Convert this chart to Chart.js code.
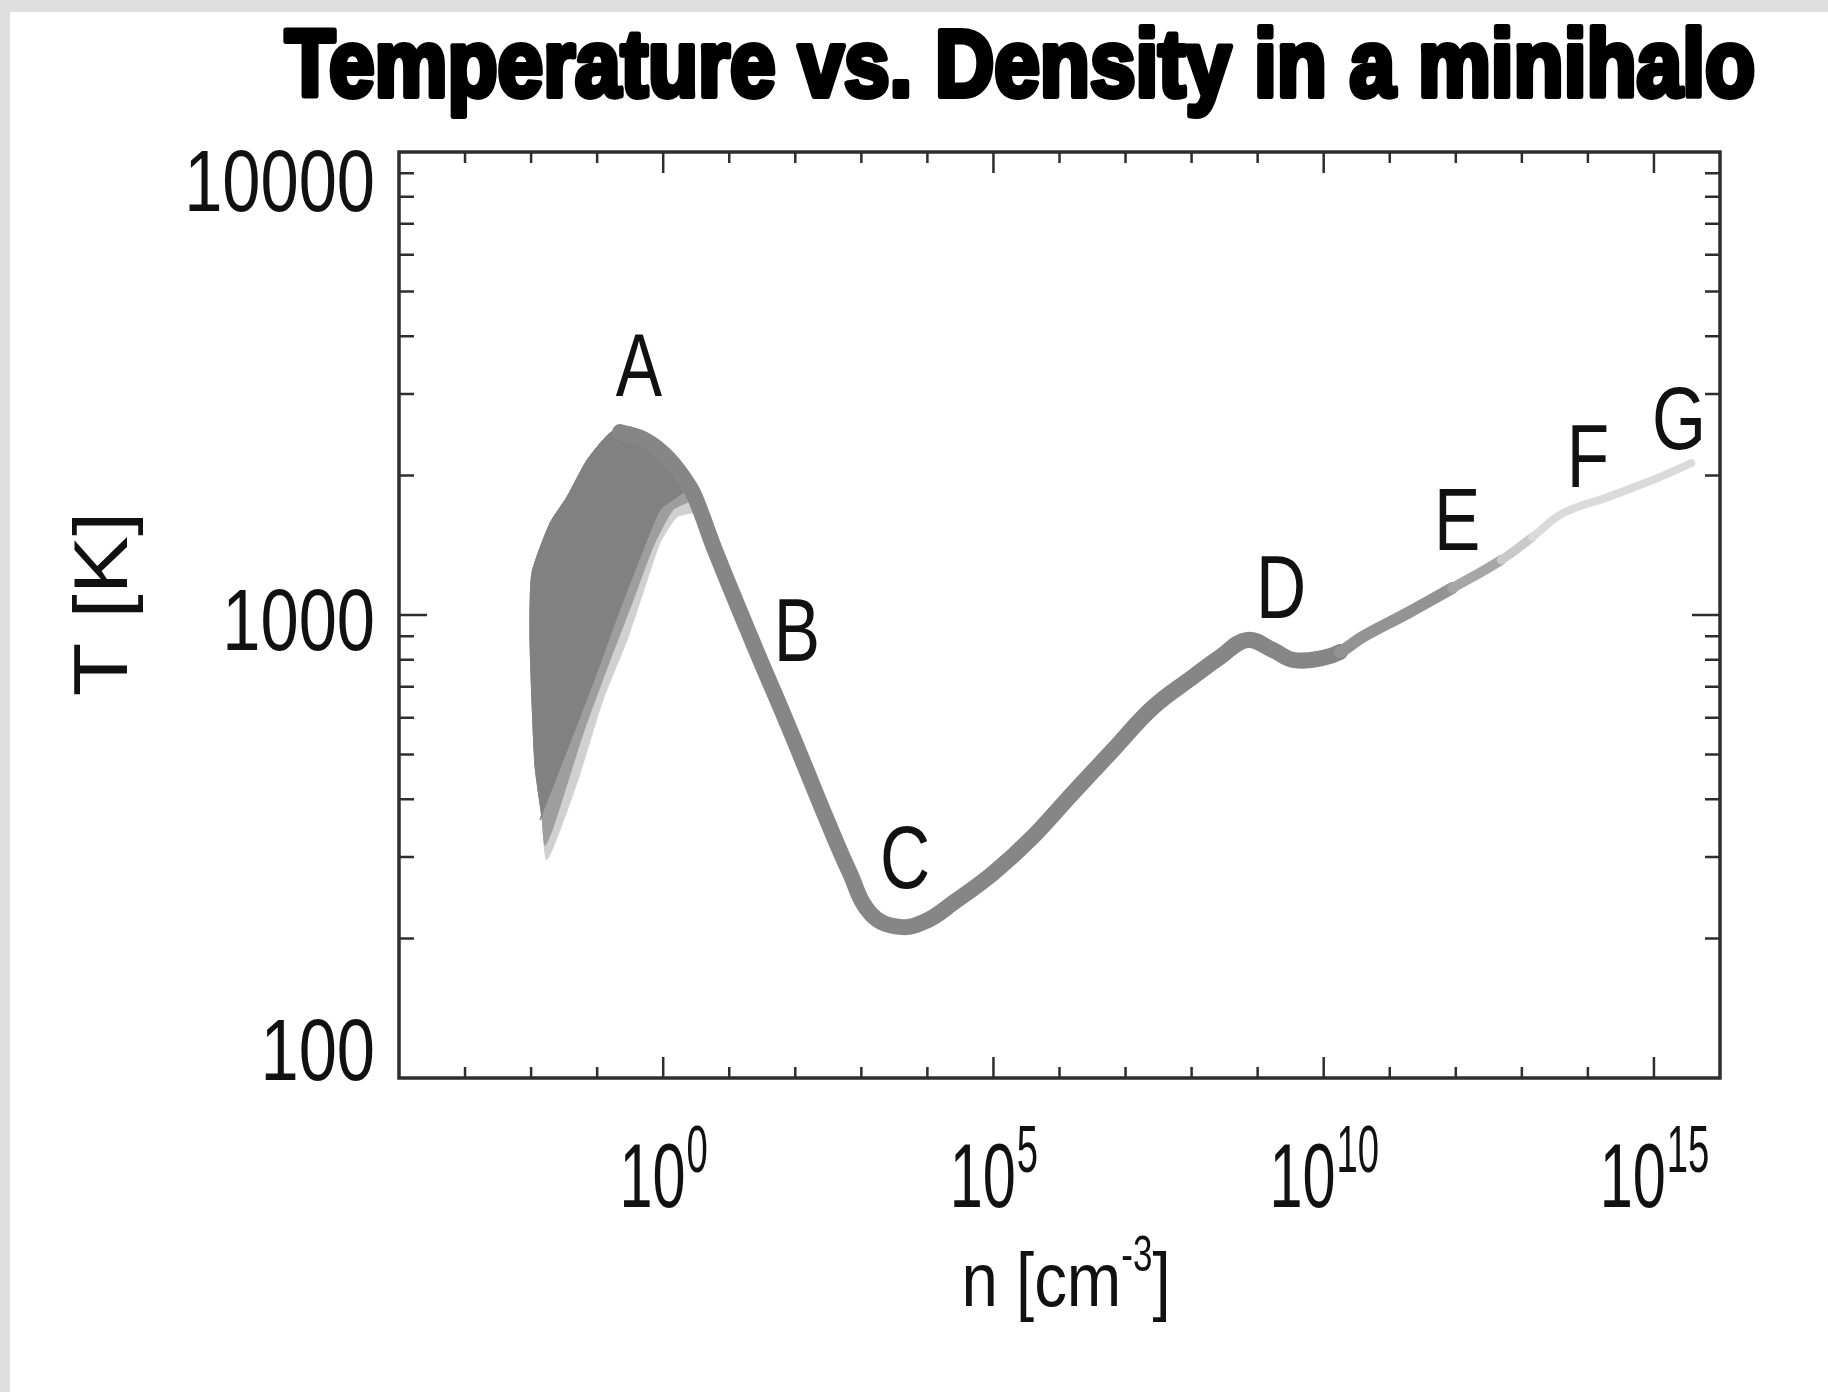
<!DOCTYPE html>
<html lang="en">
<head>
<meta charset="UTF-8">
<title>Temperature vs. Density in a minihalo</title>
<script src="https://cdn.jsdelivr.net/npm/chart.js"></script>
<style>
    body {
        margin: 0;
        padding: 0;
        background: #ffffff;
    }
    .chart-container {
        width: 1828px;
        height: 1392px;
    }
</style>
</head>
<body>
<div class="chart-container">
    <canvas id="tdChart" width="1828" height="1392"></canvas>
</div>
<script>
    // main track: number density n [cm^-3] and temperature T [K]
    const densityMain = [0.222, 0.531, 1.18, 2.54, 3.61, 6.08, 28.2, 62.8, 135, 291, 649,
        1.40e3, 3.88e3, 9.95e3, 2.46e4, 9.93e4, 3.97e5, 1.60e6, 6.46e6, 2.61e7, 1.05e8,
        2.69e8, 6.90e8, 1.71e9, 3.44e9, 9.48e9, 1.77e10, 3.83e10, 1.84e11, 8.83e11,
        4.88e12, 1.44e13, 4.24e13, 2.03e14, 9.75e14, 3.67e15];
    const tempMain = [2483, 2388, 2183, 1888, 1687, 1380, 811, 621, 477, 365, 280,
        226, 212, 219, 239, 277, 332, 413, 511, 632, 735,
        811, 883, 840, 800, 807, 832, 896, 1009, 1143,
        1315, 1473, 1660, 1799, 1959, 2128];

    // spread of the low density gas: upper/left outline shared by all shades
    const fanOutlineN = [0.0146, 0.0115, 0.0103, 0.0096, 0.0103, 0.0194, 0.0350, 0.0703, 0.157, 0.314, 0.631, 1.41, 2.54];
    const fanOutlineT = [366, 470, 655, 914, 1233, 1581, 1799, 2161, 2473, 2547, 2421, 2161, 1888];

    // lower boundaries, right to left
    const fanLightN = [3.61, 1.62, 0.895, 0.494, 0.283, 0.122, 0.0494, 0.0174];
    const fanLightT = [1687, 1629, 1432, 1117, 883, 655, 434, 296];
    const fanMidN = [3.02, 1.41, 0.700, 0.349, 0.157, 0.0615, 0.0216, 0.0162];
    const fanMidT = [1790, 1687, 1403, 1076, 800, 556, 348, 318];
    const fanDarkN = [2.54, 1.62, 0.895, 0.494, 0.200, 0.0865, 0.0350, 0.0136];
    const fanDarkT = [1888, 1799, 1687, 1380, 991, 713, 511, 361];

    // stage labels
    const stageNames = ['A', 'B', 'C', 'D', 'E', 'F', 'G'];
    const stageN = [0.43, 106, 4.58e3, 2.26e9, 1.05e12, 1.0e14, 2.4e15];
    const stageT = [2972, 796, 257, 986, 1380, 1888, 2286];

    // axes
    const yTickValues = [100, 1000, 10000];
    const yTickLabels = ['100', '1000', '10000'];
    const yMinorTicks = [200, 300, 400, 500, 600, 700, 800, 900, 2000, 3000, 4000, 5000, 6000, 7000, 8000, 9000];
    const xDecades = [-3, -2, -1, 0, 1, 2, 3, 4, 5, 6, 7, 8, 9, 10, 11, 12, 13, 14, 15];
    const xTickExponents = [0, 5, 10, 15];

    const SANS = "'Liberation Sans', Arial, Helvetica, sans-serif";

    function toPoints(xs, ys) {
        return xs.map((v, i) => ({ x: v, y: ys[i] }));
    }

    function fanPolygon(lowerN, lowerT) {
        const pts = toPoints(fanOutlineN, fanOutlineT).concat(toPoints(lowerN, lowerT));
        pts.push({ x: fanOutlineN[0], y: fanOutlineT[0] });
        return pts;
    }

    // colour fades and the track thins at high density
    function trackStyle(n) {
        if (n < 1.5e10) return { color: '#868686', width: 16 };
        if (n < 8e11) return { color: '#939393', width: 12 };
        if (n < 4.5e12) return { color: '#a6a6a6', width: 10 };
        if (n < 1.4e13) return { color: '#c9c9c9', width: 9 };
        return { color: '#dadada', width: 8 };
    }

    function drawText(ctx, str, x, y, size, sx, align, weight) {
        ctx.save();
        ctx.font = (weight || 'normal') + ' ' + size + 'px ' + SANS;
        ctx.textAlign = align || 'center';
        ctx.textBaseline = 'alphabetic';
        ctx.fillStyle = '#111';
        ctx.translate(x, y);
        ctx.scale(sx, 1);
        ctx.fillText(str, 0, 0);
        ctx.restore();
    }

    function textWidth(ctx, str, size, sx, weight) {
        ctx.save();
        ctx.font = (weight || 'normal') + ' ' + size + 'px ' + SANS;
        const w = ctx.measureText(str).width * sx;
        ctx.restore();
        return w;
    }

    const framePlugin = {
        id: 'frame',
        beforeDraw(chart) {
            const ctx = chart.ctx;
            ctx.save();
            ctx.fillStyle = '#dedede';
            ctx.fillRect(0, 0, chart.width, chart.height);
            ctx.fillStyle = '#ffffff';
            ctx.fillRect(10, 12, chart.width - 10, chart.height - 12);
            ctx.restore();
        },
        afterDatasetsDraw(chart) {
            const { ctx, chartArea: a } = chart;
            const x = chart.scales.x, y = chart.scales.y;
            ctx.save();
            ctx.strokeStyle = '#2e2e2e';
            ctx.lineWidth = 2.5;
            ctx.beginPath();
            xDecades.forEach(e => {
                const px = x.getPixelForValue(Math.pow(10, e));
                const len = xTickExponents.includes(e) ? 21 : 11;
                ctx.moveTo(px, a.bottom); ctx.lineTo(px, a.bottom - len);
                ctx.moveTo(px, a.top); ctx.lineTo(px, a.top + len);
            });
            yMinorTicks.concat([1000]).forEach(v => {
                const py = y.getPixelForValue(v);
                const len = v === 1000 ? 28 : 15;
                ctx.moveTo(a.left, py); ctx.lineTo(a.left + len, py);
                ctx.moveTo(a.right, py); ctx.lineTo(a.right - len, py);
            });
            ctx.stroke();
            ctx.lineWidth = 3.5;
            ctx.strokeRect(a.left, a.top, a.right - a.left, a.bottom - a.top);
            ctx.restore();
        },
        afterDraw(chart) {
            const { ctx, chartArea: a } = chart;
            const x = chart.scales.x, y = chart.scales.y;

            // title, heavy and condensed
            const title = 'Temperature vs. Density in a minihalo';
            const tw = textWidth(ctx, title, 95, 1, 'bold');
            const tsx = 1470 / tw;
            ctx.save();
            ctx.font = 'bold 95px ' + SANS;
            ctx.textAlign = 'center';
            ctx.fillStyle = '#000';
            ctx.strokeStyle = '#000';
            ctx.lineWidth = 6;
            ctx.lineJoin = 'round';
            ctx.translate(1020, 96);
            ctx.scale(tsx, 1);
            ctx.strokeText(title, 0, 0);
            ctx.fillText(title, 0, 0);
            ctx.restore();

            // stage letters
            stageNames.forEach((s, i) => {
                drawText(ctx, s, x.getPixelForValue(stageN[i]), y.getPixelForValue(stageT[i]), 89, 0.78, 'center');
            });

            // y tick labels (end labels pulled inside, as in the original)
            const yNudge = { 100: -29, 1000: 4, 10000: 28 };
            yTickValues.forEach((v, i) => {
                const py = y.getPixelForValue(v) + yNudge[v] + 31;
                drawText(ctx, yTickLabels[i], a.left - 24, py, 88, 0.78, 'right');
            });

            // x tick labels 10^k
            xTickExponents.forEach(e => {
                const px = x.getPixelForValue(Math.pow(10, e));
                const w1 = textWidth(ctx, '10', 90, 0.66);
                const w2 = textWidth(ctx, String(e), 66, 0.58);
                const start = px - (w1 + w2) / 2;
                drawText(ctx, '10', start, 1207, 90, 0.66, 'left');
                drawText(ctx, String(e), start + w1 + 1, 1172, 66, 0.58, 'left');
            });

            // x axis title n [cm^-3]
            const p1 = 'n [cm', sup = '-3', p2 = ']';
            const s1 = 0.86, ss = 0.7;
            const w1 = textWidth(ctx, p1, 76, s1), w2 = textWidth(ctx, sup, 50, ss), w3 = textWidth(ctx, p2, 76, s1);
            const sx0 = 1066 - (w1 + w2 + w3) / 2;
            drawText(ctx, p1, sx0, 1306, 76, s1, 'left');
            drawText(ctx, sup, sx0 + w1, 1271, 50, ss, 'left');
            drawText(ctx, p2, sx0 + w1 + w2, 1306, 76, s1, 'left');

            // y axis title T [K]
            ctx.save();
            ctx.translate(127, 604);
            ctx.rotate(-Math.PI / 2);
            drawText(ctx, 'T [K]', 0, 0, 76, 1.15, 'center');
            ctx.restore();
        }
    };

    const ctx = document.getElementById('tdChart').getContext('2d');
    new Chart(ctx, {
        type: 'scatter',
        data: {
            datasets: [
                {
                    label: 'collapse track',
                    data: toPoints(densityMain, tempMain),
                    showLine: true,
                    pointRadius: 0,
                    tension: 0.4,
                    borderCapStyle: 'round',
                    borderJoinStyle: 'round',
                    borderColor: '#868686',
                    borderWidth: 16,
                    segment: {
                        borderColor: c => trackStyle(c.p0.parsed.x).color,
                        borderWidth: c => trackStyle(c.p0.parsed.x).width
                    },
                    order: 0
                },
                {
                    label: 'spread (core)',
                    data: fanPolygon(fanDarkN, fanDarkT),
                    showLine: true,
                    pointRadius: 0,
                    tension: 0.2,
                    borderColor: '#818181',
                    backgroundColor: '#818181',
                    borderWidth: 1,
                    fill: 'shape',
                    order: 1
                },
                {
                    label: 'spread (mid)',
                    data: fanPolygon(fanMidN, fanMidT),
                    showLine: true,
                    pointRadius: 0,
                    tension: 0.2,
                    borderColor: '#9e9e9e',
                    backgroundColor: '#9e9e9e',
                    borderWidth: 1,
                    fill: 'shape',
                    order: 2
                },
                {
                    label: 'spread (outer)',
                    data: fanPolygon(fanLightN, fanLightT),
                    showLine: true,
                    pointRadius: 0,
                    tension: 0.2,
                    borderColor: '#d0d0d0',
                    backgroundColor: '#d0d0d0',
                    borderWidth: 1,
                    fill: 'shape',
                    order: 3
                }
            ]
        },
        options: {
            responsive: false,
            animation: false,
            devicePixelRatio: 1,
            layout: {
                padding: { left: 0, top: 152, right: 108, bottom: 0 }
            },
            scales: {
                x: {
                    type: 'logarithmic',
                    min: 1e-4,
                    max: 1e16,
                    ticks: { display: false },
                    grid: { display: false },
                    border: { display: false },
                    afterFit: scale => { scale.height = 314; }
                },
                y: {
                    type: 'logarithmic',
                    min: 100,
                    max: 10000,
                    ticks: { display: false },
                    grid: { display: false },
                    border: { display: false },
                    afterFit: scale => { scale.width = 399; }
                }
            },
            plugins: {
                legend: { display: false },
                tooltip: { enabled: false },
                title: { display: false }
            }
        },
        plugins: [framePlugin]
    });
</script>
</body>
</html>
